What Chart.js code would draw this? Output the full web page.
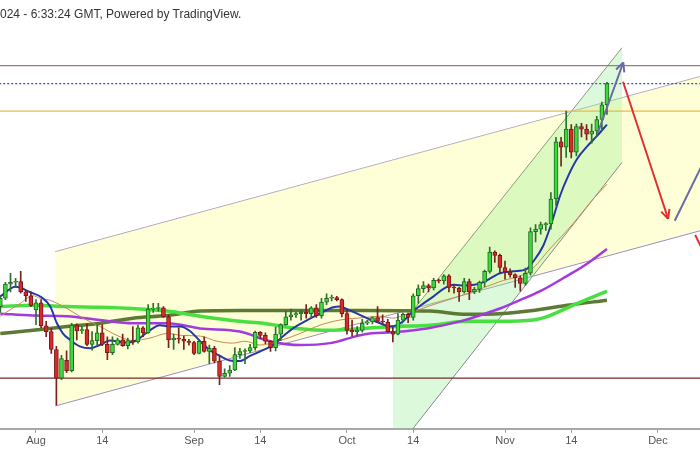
<!DOCTYPE html>
<html>
<head>
<meta charset="utf-8">
<script src="https://cdn.jsdelivr.net/npm/chart.js@4.4.1/dist/chart.umd.min.js"></script>
<style>
  html, body { margin: 0; padding: 0; background: #fff; }
  #wrap { position: relative; width: 700px; height: 450px; overflow: hidden; }
  #title { position: absolute; left: 0; top: 6px; font: 12px "Liberation Sans", Arial, sans-serif; color: #333; line-height: 16px; white-space: nowrap; }
</style>
</head>
<body>
<div id="wrap">
  <canvas id="chart" width="700" height="450"></canvas>
  <div id="title">024 - 6:33:24 GMT, Powered by TradingView.</div>
</div>
<script>
// daily candles, day 0 = Aug 1 (first candle Jul 25)
const firstDay = -7;
const opens  = [64.5,65.8,68.0,68.3,68.4,66.8,66.2,64.0,65.1,61.5,60.6,57.8,53.35,56.1,54.5,61.6,60.7,60.9,58.6,59.2,60.4,58.6,57.3,58.6,59.3,58.4,59.2,59.0,61.2,60.4,64.1,64.2,64.3,62.9,59.3,59.6,59.4,59.1,58.9,57.2,59.1,57.5,58.0,56.0,53.6,54.1,54.6,57.0,57.5,57.6,58.1,60.5,60.0,59.1,58.1,60.2,61.7,62.9,63.2,63.4,63.6,63.4,64.3,63.1,65.2,65.8,65.9,65.6,63.4,60.8,60.6,60.8,61.9,62.1,62.8,62.2,62.1,60.6,60.2,62.4,63.3,62.8,66.2,67.3,67.8,67.4,68.6,68.5,69.3,67.5,67.4,66.8,68.4,66.8,67.2,68.3,70.0,73.0,72.5,70.6,69.9,69.5,69.0,68.1,69.7,76.2,76.6,77.3,77.4,81.3,90.2,89.4,92.2,88.6,92.6,92.2,91.4,91.9,93.7,96.0];
const highs  = [66.2,68.3,69.7,68.9,70.0,67.0,66.8,65.6,65.6,62.2,61.1,58.3,56.9,57.6,61.9,61.8,61.4,61.8,60.6,61.7,61.7,59.8,59.8,59.6,60.2,59.6,61.4,61.6,61.4,64.8,65.0,65.0,64.5,63.2,60.2,61.2,59.9,59.4,59.1,59.4,59.8,58.5,58.3,56.9,54.8,55.3,58.1,58.0,57.9,58.6,60.7,60.6,60.4,59.2,61.3,61.8,63.8,64.1,63.6,64.0,64.8,64.5,64.8,65.8,66.5,66.3,66.1,65.7,64.1,62.4,61.4,62.5,62.4,62.9,64.5,63.2,62.5,61.3,63.4,63.5,63.5,66.5,67.9,68.4,68.0,68.9,68.8,69.5,69.5,67.9,67.5,68.9,68.8,67.5,68.5,70.2,73.8,73.2,72.7,71.6,70.4,69.6,69.3,70.5,76.8,77.3,77.7,77.6,82.3,90.9,90.9,95.0,92.9,93.0,93.1,92.9,93.0,94.2,96.4,99.5];
const lows   = [63.6,65.6,66.8,67.5,66.6,65.3,64.5,61.7,61.2,59.8,57.2,49.1,53.1,54.2,54.3,59.3,60.3,58.4,57.7,58.5,58.4,56.2,57.0,58.5,58.3,57.9,58.6,58.8,59.8,60.3,63.6,63.8,62.8,58.1,57.8,58.8,57.8,58.5,57.0,57.1,57.4,55.6,55.7,52.3,53.5,53.6,54.5,56.4,55.6,57.3,57.7,59.5,58.7,57.5,57.6,59.2,61.6,62.4,62.8,62.4,62.7,62.7,62.8,62.7,64.8,65.4,65.4,62.9,60.2,59.9,59.9,60.5,61.7,61.8,62.1,61.8,60.5,59.0,60.1,62.3,62.0,62.4,65.0,66.7,66.8,67.1,68.2,68.0,66.8,66.6,65.3,66.6,65.6,66.5,66.7,67.6,69.7,71.4,69.7,68.8,69.1,67.5,66.9,67.8,69.4,74.6,75.8,76.4,76.6,80.3,86.4,87.8,87.7,88.0,91.0,90.5,90.0,91.1,92.0,94.5];
const closes = [65.8,68.0,68.3,68.4,66.8,66.2,64.7,65.1,61.5,60.6,57.8,53.35,56.4,54.5,61.6,60.7,60.9,58.6,59.2,60.4,58.6,57.3,58.6,59.3,58.4,59.2,59.0,61.2,60.4,64.1,64.2,64.3,62.9,59.3,59.6,59.4,59.1,58.9,57.2,59.1,57.5,58.0,56.0,53.6,54.1,54.6,57.0,57.5,57.6,58.1,60.5,60.0,59.1,58.1,60.2,61.7,62.9,63.2,63.4,63.6,63.4,64.3,63.1,65.2,65.8,65.9,65.6,63.4,60.8,60.6,60.8,61.9,62.1,62.8,62.2,62.1,60.6,60.2,62.4,63.3,62.8,66.2,67.3,67.8,67.4,68.6,68.5,69.3,67.5,67.4,66.8,68.4,66.8,67.2,68.3,70.0,73.0,72.5,70.6,69.9,69.5,69.0,68.1,69.7,76.2,76.6,77.3,77.4,81.3,90.2,89.4,92.2,88.6,92.6,92.2,91.4,91.9,93.7,96.0,99.3];

// moving averages: [day, value]
const emaShort = [[-7,66.1],[-4,67.6],[-1,66.7],[1,66.0],[2.8,64.5],[4.1,61.9],[5.3,60.3],[6.7,59.3],[8.6,58.3],[10.6,58.0],[12.5,58.5],[14.5,59.2],[17.5,58.9],[19.4,59.1],[22,60.6],[24.3,61.6],[26,61.4],[28.3,61.4],[30.2,60.7],[32.2,59.1],[34.1,57.7],[36.1,56.8],[38,56.1],[40,56.0],[42,56.8],[44,57.5],[46.5,58.5],[48.5,59.9],[50.4,61.1],[53.2,62.4],[55.7,63.4],[58.3,64.4],[59.6,64.5],[61,64.1],[63,63.4],[65.5,62.5],[67.5,61.9],[69.4,61.4],[70.8,61.6],[72,62.2],[74,63.8],[76,65.0],[78,66.1],[80,67.3],[82,67.9],[84,67.8],[86,67.9],[88,68.4],[91,69.7],[93.6,70.0],[96.3,70.4],[97.5,71.5],[99.5,74.0],[101.2,77.7],[102.8,81.8],[104.4,84.9],[106.1,87.5],[108.1,89.5],[110,91.1],[112,92.9]];
const sma20 = [[-7,63.0],[-3.1,65.0],[-0.6,66.2],[0.8,65.8],[2.7,65.5],[6.1,64.2],[9.2,62.7],[12.6,61.4],[15.9,60.0],[19,59.2],[22.4,59.6],[25.7,60.3],[28.8,60.0],[32.2,59.9],[35.5,59.1],[38.6,58.8],[41,59.1],[43.9,58.5],[47.9,59.2],[51.8,60.3],[55.7,61.6],[59.6,62.4],[64.5,62.8],[67.5,63.0],[70,62.7],[72,63.1],[74.7,63.9],[77.9,64.8],[84.5,66.5],[91,68.4],[96.9,70.1],[100.8,73.5],[105.3,77.4],[109.3,81.3],[112,83.6]];
const sma50 = [[-7,63.4],[-0.6,63.1],[6.1,63.0],[12.6,62.4],[19,61.9],[25.7,61.9],[32.2,61.1],[40,60.6],[45.9,59.1],[51.8,58.5],[57.7,58.8],[64.5,60.2],[70,60.5],[76.7,61.1],[83.2,62.2],[88.1,63.4],[91,64.2],[94.9,65.5],[98.9,66.9],[104.2,69.3],[108.1,71.2],[112,73.5]];
const sma100 = [[-7,64.5],[-0.6,64.7],[6.1,64.5],[12.6,64.4],[19,64.2],[25.7,63.8],[32.2,63.0],[40,62.2],[44.5,61.9],[51.2,61.1],[57.7,60.8],[64.1,61.1],[70.8,61.4],[77.3,61.6],[84.5,62.2],[91,62.2],[97.5,62.4],[100.8,63.1],[105.3,64.7],[112,66.9]];
const sma200 = [[-7,60.3],[-0.6,60.8],[6.1,61.4],[12.6,61.9],[19,62.7],[25.7,63.1],[32.2,63.8],[40,63.9],[51.8,63.9],[64.1,63.9],[77.3,63.8],[84.5,63.3],[91,63.4],[97.5,63.9],[104.2,64.7],[112,65.5]];

// drawings
const levelVals   = [102.1, 99.3, 95.0, 53.35];
const levelColors = ['#a07a7a', '#2f50e0', '#f0b848', '#7a2a2a'];
const yellowDays  = [3.8, 131];
const yellowUpper = [73.07, 100.56];
const yellowLower = [49.0, 76.49];
const greenDays   = [70.03, 114.95];
const greenUpper  = [60.0, 104.9];
const greenLower  = [41.5, 87.0];
const upArrow     = [[110.2, 91.6], [115.2, 102.6]];
const downArrow   = [[115.15, 99.6], [124.0, 78.2]];
const riseLine    = [[125.3, 77.9], [132.2, 89.1]];
const dropLine    = [[129.3, 75.7], [131.2, 72.6]];

const tickDays   = [0, 13, 31, 44, 61, 74, 92, 105, 122];
const tickLabels = ['Aug', '14', 'Sep', '14', 'Oct', '14', 'Nov', '14', 'Dec'];

const pts = (pairs) => pairs.map(p => ({x: p[0], y: p[1]}));
const zip = (xs, ys) => xs.map((x, i) => ({x: x, y: ys[i]}));

const up = closes.map((c, i) => c >= opens[i]);
const bodies = opens.map((o, i) => ({x: firstDay + i, y: [o, closes[i]]}));
const wicks = lows.map((l, i) => ({x: firstDay + i, y: [l, highs[i]]}));

function lineSet(data, color, width, order, extra) {
    return Object.assign({
        type: 'line', data: data, borderColor: color, borderWidth: width,
        pointRadius: 0, fill: false, order: order, cubicInterpolationMode: 'monotone'
    }, extra || {});
}

const datasets = [
    lineSet(zip(yellowDays, yellowUpper), '#a08cc0', 1, 100),
    lineSet(zip(yellowDays, yellowLower), '#a08cc0', 1, 99, {fill: 0, backgroundColor: 'rgba(255,255,175,0.5)'}),
    lineSet(zip(greenDays, greenUpper), '#8a8a8a', 1, 95),
    lineSet(zip(greenDays, greenLower), '#8a8a8a', 1, 94, {fill: 2, backgroundColor: 'rgba(140,235,140,0.3)'})
];
levelVals.forEach((v, i) => {
    datasets.push(lineSet([{x: -8, y: v}, {x: 131, y: v}], levelColors[i], i === 1 ? 1.4 : 1.3, 90,
        i === 1 ? {borderDash: [2, 2]} : {}));
});
datasets.push(
    lineSet(pts(sma200), '#5c7a34', 3.5, 80),
    lineSet(pts(sma100), '#48e040', 3.5, 79),
    lineSet(pts(sma50), '#a23ae0', 2.5, 78),
    lineSet(pts(sma20), '#c8875a', 1, 77),
    lineSet(pts(emaShort), '#2438a8', 2, 76),
    {
        type: 'bar', data: wicks, order: 50, barThickness: 1, grouped: false, minBarLength: 1,
        backgroundColor: up.map(u => u ? '#2e6e2e' : '#7a2020')
    },
    {
        type: 'bar', data: bodies, order: 40, barThickness: 4, grouped: false, minBarLength: 1,
        backgroundColor: up.map(u => u ? '#3ed83e' : '#d82a2a'),
        borderColor: up.map(u => u ? '#1f6a1f' : '#7a1616'), borderWidth: 1, borderSkipped: false
    },
    lineSet(pts(upArrow), '#6a6aa8', 2, 10, {arrowHead: true}),
    lineSet(pts(downArrow), '#e03030', 2, 9, {arrowHead: true}),
    lineSet(pts(riseLine), '#6a6aa8', 2, 8),
    lineSet(pts(dropLine), '#e03030', 2, 7)
);

const arrowHeads = {
    id: 'arrowHeads',
    afterDatasetsDraw(chart) {
        const ctx = chart.ctx;
        chart.data.datasets.forEach((ds, i) => {
            if (!ds.arrowHead) return;
            const el = chart.getDatasetMeta(i).data;
            const a = el[el.length - 2], b = el[el.length - 1];
            const ang = Math.atan2(b.y - a.y, b.x - a.x);
            ctx.save();
            ctx.strokeStyle = ds.borderColor;
            ctx.lineWidth = ds.borderWidth;
            ctx.beginPath();
            [-0.45, 0.45].forEach(o => {
                ctx.moveTo(b.x, b.y);
                ctx.lineTo(b.x - 10 * Math.cos(ang + o), b.y - 10 * Math.sin(ang + o));
            });
            ctx.stroke();
            ctx.restore();
        });
    }
};

new Chart(document.getElementById('chart'), {
    type: 'line',
    data: {datasets: datasets},
    plugins: [arrowHeads],
    options: {
        responsive: false,
        animation: false,
        layout: {padding: 0},
        plugins: {legend: {display: false}, tooltip: {enabled: false}},
        scales: {
            x: {
                type: 'linear', min: -7.06, max: 130.25, offset: false,
                afterBuildTicks: (scale) => { scale.ticks = tickDays.map(v => ({value: v})); },
                ticks: {
                    autoSkip: false, maxRotation: 0, padding: 2, color: '#555',
                    font: {family: 'Liberation Sans', size: 11},
                    callback: (v) => tickLabels[tickDays.indexOf(v)]
                },
                grid: {offset: false, drawOnChartArea: false, drawTicks: true, tickLength: 4, tickColor: '#999'},
                border: {display: true, color: '#a8a8a8', width: 2}
            },
            y: {type: 'linear', display: false, min: 45.43, max: 112.35}
        }
    }
});
</script>
</body>
</html>
